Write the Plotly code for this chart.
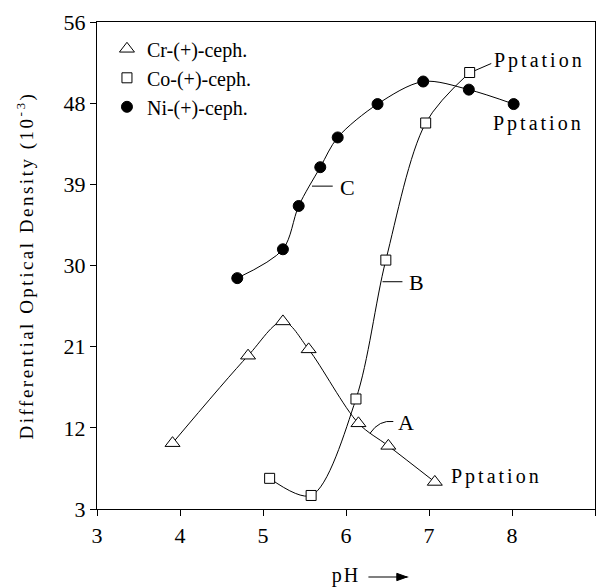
import plotly.graph_objects as go

# ---- data ----
cr_ph = [3.91, 4.82, 5.24, 5.55, 6.15, 6.51, 7.07]
cr_od = [10.3, 20.0, 23.8, 20.7, 12.5, 10.0, 6.0]

co_ph = [5.08, 5.58, 6.12, 6.48, 6.96, 7.49]
co_od = [6.4, 4.5, 15.2, 30.6, 45.8, 51.4]

ni_ph = [4.69, 5.24, 5.43, 5.69, 5.90, 6.38, 6.93, 7.48, 8.02]
ni_od = [28.6, 31.8, 36.6, 40.9, 44.2, 47.9, 50.4, 49.5, 47.9]

x_ticks = [3, 4, 5, 6, 7, 8, 9]
y_tickvals = [3, 12, 21, 30, 39, 48, 57]
y_ticktext = ["3", "12", "21", "30", "39", "48", "56"]

SERIF = "Liberation Serif, Times New Roman, serif"

fig = go.Figure()

# smooth curves
for xs, ys in [(cr_ph, cr_od), (co_ph, co_od), (ni_ph, ni_od)]:
    fig.add_trace(go.Scatter(x=xs, y=ys, mode="lines",
                             line=dict(color="black", width=1, shape="spline", smoothing=0.9),
                             showlegend=False, hoverinfo="skip"))

# markers
fig.add_trace(go.Scatter(x=cr_ph, y=cr_od, mode="markers", name="Cr-(+)-ceph.",
                         marker=dict(symbol="triangle-up", size=13, color="white",
                                     line=dict(color="black", width=1))))
fig.add_trace(go.Scatter(x=co_ph, y=co_od, mode="markers", name="Co-(+)-ceph.",
                         marker=dict(symbol="square", size=10, color="white",
                                     line=dict(color="black", width=1))))
fig.add_trace(go.Scatter(x=ni_ph, y=ni_od, mode="markers", name="Ni-(+)-ceph.",
                         marker=dict(symbol="circle", size=11, color="black",
                                     line=dict(color="black", width=1))))

def spaced(t, s=3):
    return f'<span style="letter-spacing:{s}px">{t}</span>'

# curve labels with leader lines
fig.add_shape(type="line", x0=5.59, y0=38.8, x1=5.84, y1=38.8, line=dict(color="black", width=1))
fig.add_annotation(x=5.90, y=38.6, text="C", showarrow=False, xanchor="left",
                   font=dict(family=SERIF, size=22, color="black"))
fig.add_shape(type="line", x0=6.44, y0=28.2, x1=6.68, y1=28.2, line=dict(color="black", width=1))
fig.add_annotation(x=6.74, y=28.1, text="B", showarrow=False, xanchor="left",
                   font=dict(family=SERIF, size=22, color="black"))
fig.add_shape(type="path", path="M 6.29,11.4 Q 6.40,12.9 6.57,12.7",
              line=dict(color="black", width=1))
fig.add_annotation(x=6.60, y=12.6, text="A", showarrow=False, xanchor="left",
                   font=dict(family=SERIF, size=22, color="black"))

# precipitation labels
fig.add_shape(type="line", x0=7.55, y0=51.6, x1=7.75, y1=52.4, line=dict(color="black", width=1))
fig.add_annotation(x=7.76, y=52.7, text=spaced("Pptation"), showarrow=False, xanchor="left",
                   font=dict(family=SERIF, size=20, color="black"))
fig.add_annotation(x=7.75, y=45.7, text=spaced("Pptation"), showarrow=False, xanchor="left",
                   font=dict(family=SERIF, size=20, color="black"))
fig.add_annotation(x=7.24, y=6.6, text=spaced("Pptation"), showarrow=False, xanchor="left",
                   font=dict(family=SERIF, size=20, color="black"))

# arrow after pH (drawn as shapes in paper coordinates)
ay = -0.1396
fig.add_shape(type="line", xref="paper", yref="paper", x0=0.545, y0=ay, x1=0.625, y1=ay,
              line=dict(color="black", width=1.2))
fig.add_shape(type="path", xref="paper", yref="paper",
              path=f"M 0.6225,{ay} L 0.602,{ay + 0.0075} L 0.602,{ay - 0.0075} Z",
              fillcolor="black", line=dict(color="black", width=1))

fig.update_layout(
    width=599, height=587,
    margin=dict(l=97, r=4, t=22, b=78),
    paper_bgcolor="white", plot_bgcolor="white",
    font=dict(family=SERIF, size=18, color="black"),
    showlegend=True,
    legend=dict(x=0.02, y=0.985, xanchor="left", yanchor="top",
                font=dict(family=SERIF, size=20, color="black"),
                bgcolor="rgba(0,0,0,0)", itemwidth=30, tracegroupgap=0),
    xaxis=dict(range=[3, 9], tickvals=x_ticks, showgrid=False, zeroline=False,
               showline=True, linecolor="black", linewidth=1.3, mirror=True,
               ticks="outside", ticklen=6, tickcolor="black",
               tickfont=dict(family=SERIF, size=22),
               title=dict(text=spaced("pH", 2), font=dict(family=SERIF, size=20), standoff=22)),
    yaxis=dict(range=[3, 57], tickvals=y_tickvals, ticktext=y_ticktext, showgrid=False,
               zeroline=False, showline=True, linecolor="black", linewidth=1.3, mirror=True,
               ticks="outside", ticklen=6, tickcolor="black",
               tickfont=dict(family=SERIF, size=22),
               title=dict(text=spaced("Differential Optical Density (10<sup>-3</sup>)", 2.5),
                          font=dict(family=SERIF, size=19), standoff=24)),
)

fig.write_html("out.html")
